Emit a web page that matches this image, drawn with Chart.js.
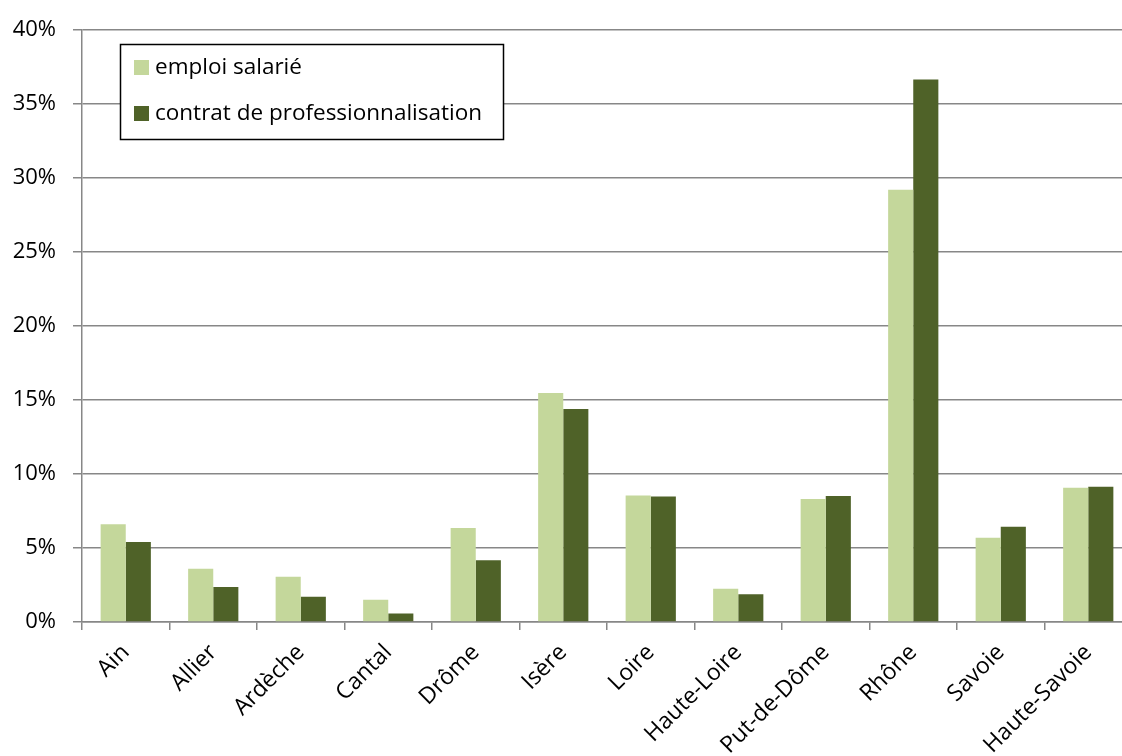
<!DOCTYPE html>
<html>
<head>
<meta charset="utf-8">
<script src="https://cdn.jsdelivr.net/npm/chart.js@4/dist/chart.umd.min.js"></script>
<style>
html,body{margin:0;padding:0;background:#fff;overflow:hidden;}
#wrap{width:1122px;height:756px;position:relative;overflow:hidden;}
#c{position:absolute;left:0;top:0;}
</style>
</head>
<body>
<div id="wrap"><canvas id="c" width="1140" height="756"></canvas></div>
<script>
const categories = ["Ain","Allier","Ardèche","Cantal","Drôme","Isère","Loire","Haute-Loire","Put-de-Dôme","Rhône","Savoie","Haute-Savoie"];
const emploiSalarie = [6.6, 3.6, 3.06, 1.51, 6.35, 15.47, 8.55, 2.24, 8.31, 29.22, 5.7, 9.07];
const contratPro = [5.41, 2.37, 1.71, 0.57, 4.18, 14.4, 8.49, 1.88, 8.51, 36.66, 6.44, 9.14];
const seriesNames = ["emploi salarié", "contrat de professionnalisation"];
const yTicks = [0, 5, 10, 15, 20, 25, 30, 35, 40];

const FONT = "'Open Sans', 'Noto Sans', sans-serif";
const GRID = "#878787";

const legendBox = {
  id: 'legendBox',
  afterDraw(chart) {
    const ctx = chart.ctx;
    ctx.save();
    ctx.fillStyle = '#fff';
    ctx.fillRect(120, 44, 383, 95);
    ctx.strokeStyle = '#000';
    ctx.lineWidth = 1.5;
    ctx.strokeRect(120.5, 44.5, 383, 95);
    ctx.font = "22.5px " + FONT;
    ctx.textBaseline = 'middle';
    ctx.textAlign = 'left';
    const rows = [67, 113];
    chart.data.datasets.forEach((ds, i) => {
      ctx.fillStyle = ds.backgroundColor;
      ctx.fillRect(134, rows[i] - 7, 15, 15);
      ctx.fillStyle = '#000';
      ctx.fillText(ds.label, 155, rows[i] + 1);
    });
    ctx.restore();
  }
};

new Chart(document.getElementById('c'), {
  type: 'bar',
  data: {
    labels: categories,
    datasets: [
      { label: seriesNames[0], data: emploiSalarie, backgroundColor: '#C4D79B', borderWidth: 0 },
      { label: seriesNames[1], data: contratPro, backgroundColor: '#4F6228', borderWidth: 0 }
    ]
  },
  options: {
    responsive: false,
    animation: false,
    events: [],
    layout: { padding: { top: 26, right: 8, left: 0, bottom: 0 } },
    datasets: { bar: { categoryPercentage: 0.574, barPercentage: 1.0 } },
    plugins: { legend: { display: false }, tooltip: { enabled: false }, title: { display: false } },
    scales: {
      x: {
        offset: true,
        grid: { offset: true, drawOnChartArea: false, drawTicks: true, tickLength: 8, color: GRID, lineWidth: 1.5 },
        border: { display: true, color: GRID, width: 1.5 },
        ticks: { color: '#000', font: { family: FONT, size: 23 }, minRotation: 45, maxRotation: 45, autoSkip: false, padding: 9 },
        afterFit(scale) { scale.height = 134; }
      },
      y: {
        min: 0, max: 40,
        afterBuildTicks(scale) { scale.ticks = yTicks.map(v => ({ value: v })); },
        grid: { color: GRID, lineWidth: 1.5, tickLength: 9, drawTicks: true },
        border: { display: true, color: GRID, width: 1.5 },
        ticks: { color: '#000', font: { family: FONT, size: 22 }, padding: 17, callback: v => v + '%' },
        afterFit(scale) { scale.width = 82; }
      }
    }
  },
  plugins: [legendBox]
});
</script>
</body>
</html>
